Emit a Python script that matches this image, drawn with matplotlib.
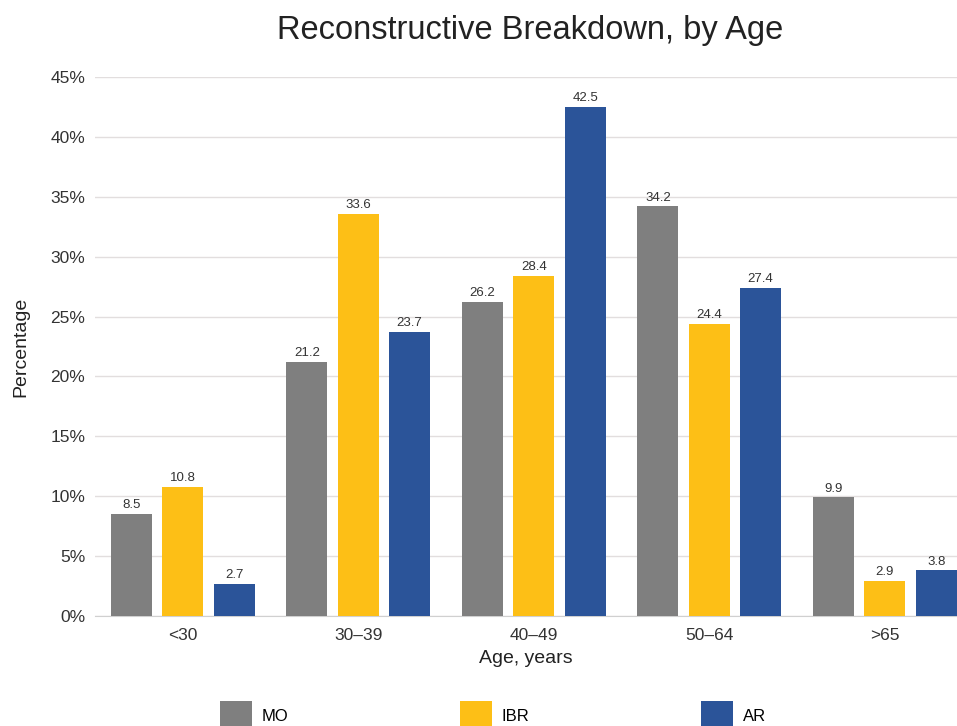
import matplotlib.pyplot as plt
import numpy as np

plt.rcParams['font.family'] = ['Liberation Sans', 'DejaVu Sans']

# age groups and percentages per reconstruction type
age_groups = ['<30', '30\u201339', '40\u201349', '50\u201364', '>65']
mo = [8.5, 21.2, 26.2, 34.2, 9.9]
ibr = [10.8, 33.6, 28.4, 24.4, 2.9]
ar = [2.7, 23.7, 42.5, 27.4, 3.8]
series_names = ['MO', 'IBR', 'AR']
colors = ['#7f7f7f', '#fdbf16', '#2b5499']

fig = plt.figure(figsize=(9.57, 7.26), dpi=100)
ax = fig.add_axes([95 / 957, 110 / 726, 862 / 957, 539 / 726])

x = np.arange(len(age_groups))
width = 0.234
step = 0.293
handles = []
for i, (vals, name, c) in enumerate(zip([mo, ibr, ar], series_names, colors)):
    bars = ax.bar(x + (i - 1) * step, vals, width, color=c, label=name, zorder=3)
    ax.bar_label(bars, labels=[f'{v:.1f}' for v in vals], padding=2,
                 fontsize=9.5, color='#333333')
    handles.append(bars)

ax.set_xlim(-0.5, -0.5 + 862 / 175.5)
ax.set_ylim(0, 45)
ax.set_yticks(np.arange(0, 46, 5))
ax.set_yticklabels([f'{v}%' for v in range(0, 46, 5)])
ax.set_xticks(x)
ax.set_xticklabels(age_groups)
ax.tick_params(length=0, labelsize=12.5, colors='#333333')
ax.tick_params(axis='x', pad=9)
ax.tick_params(axis='y', pad=7)
ax.grid(axis='y', color='#e2dede', linewidth=1, zorder=0)
for s in ['top', 'right', 'left']:
    ax.spines[s].set_visible(False)
ax.spines['bottom'].set_color('#d0d0d0')

ax.set_xlabel('Age, years', fontsize=14, color='#222222', labelpad=5)
ax.set_ylabel('Percentage', fontsize=14, color='#222222', labelpad=15)
fig.text(530 / 957, 1 - 30 / 726, 'Reconstructive Breakdown, by Age',
         ha='center', va='center', fontsize=23.5, color='#222222')

fig.legend(handles, series_names, loc='upper left', ncol=3,
           bbox_to_anchor=(205 / 957, 1 - 686 / 726), frameon=False,
           fontsize=12, handlelength=1.9, handleheight=2.4,
           handletextpad=0.6, columnspacing=10.3)

fig.savefig('out.png', dpi=100)
